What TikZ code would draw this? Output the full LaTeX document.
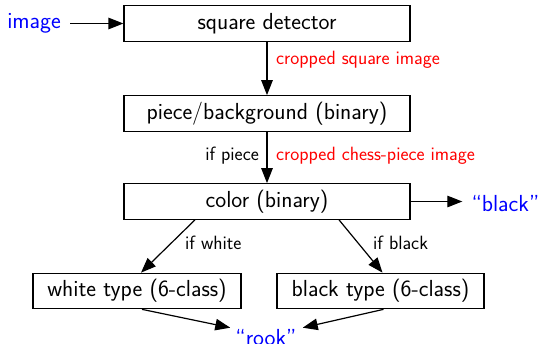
\documentclass[tikz,border=0pt]{standalone}
\usepackage{fontspec}
\usetikzlibrary{arrows.meta}
\begin{document}
\begin{tikzpicture}[x=1pt,y=-1pt,
  box/.style={draw,line width=1.2pt,minimum height=35.5pt,inner sep=0pt,font=\sffamily\fontsize{23.2}{26}\selectfont},
  lbl/.style={font=\sffamily\fontsize{19.2}{22}\selectfont,inner sep=0pt},
  red lbl/.style={lbl,text=red},
  outtxt/.style={font=\sffamily\fontsize{23.2}{26}\selectfont,text=blue,inner sep=0pt},
  arr/.style={-{Triangle[length=15pt,width=11.5pt]},line width=1.2pt}]
\useasboundingbox (0,0) rectangle (538,343);
\node[box,minimum width=286pt] (sd) at (267,23.5) {square detector};
\node[box,minimum width=286pt] (pb) at (267,113.5) {piece/background (binary)};
\node[box,minimum width=286pt] (c3) at (267,201.5) {color (binary)};
\node[box,minimum width=208pt] (w4) at (137,291) {white type (6-class)};
\node[box,minimum width=207pt] (b5) at (380.5,291) {black type (6-class)};
\node[outtxt,anchor=east] (img) at (61,23) {image};
\node[outtxt,anchor=east] (blk) at (539.5,203.5) {“black”};
\node[outtxt,anchor=base] (rook) at (266,345) {“rook”};
\node[red lbl,anchor=west] (l1) at (276,60) {cropped square image};
\node[lbl,anchor=east] (l2) at (259,156) {if piece};
\node[red lbl,anchor=west] (l3) at (276,156) {cropped chess-piece image};
\node[lbl,anchor=west] (l4) at (185,243) {if white};
\node[lbl,anchor=west] (l5) at (373,243) {if black};
\draw[arr] ([xshift=9pt]img.east |- sd.west) -- (sd.west);
\draw[arr] (sd.south) -- (pb.north);
\draw[arr] (pb.south) -- (c3.north);
\draw[arr] (c3.east) -- ([xshift=-9pt]blk.west |- c3.east);
\draw[arr] ([xshift=-72pt]c3.south) -- ([xshift=4pt]w4.north);
\draw[arr] ([xshift=72pt]c3.south) -- ([xshift=2pt]b5.north);
\draw[arr] ([xshift=5pt]w4.south) -- ([shift={(-5,-1)}]rook.north west);
\draw[arr] ([xshift=3pt]b5.south) -- ([shift={(6,-1)}]rook.north east);
\end{tikzpicture}
\end{document}
